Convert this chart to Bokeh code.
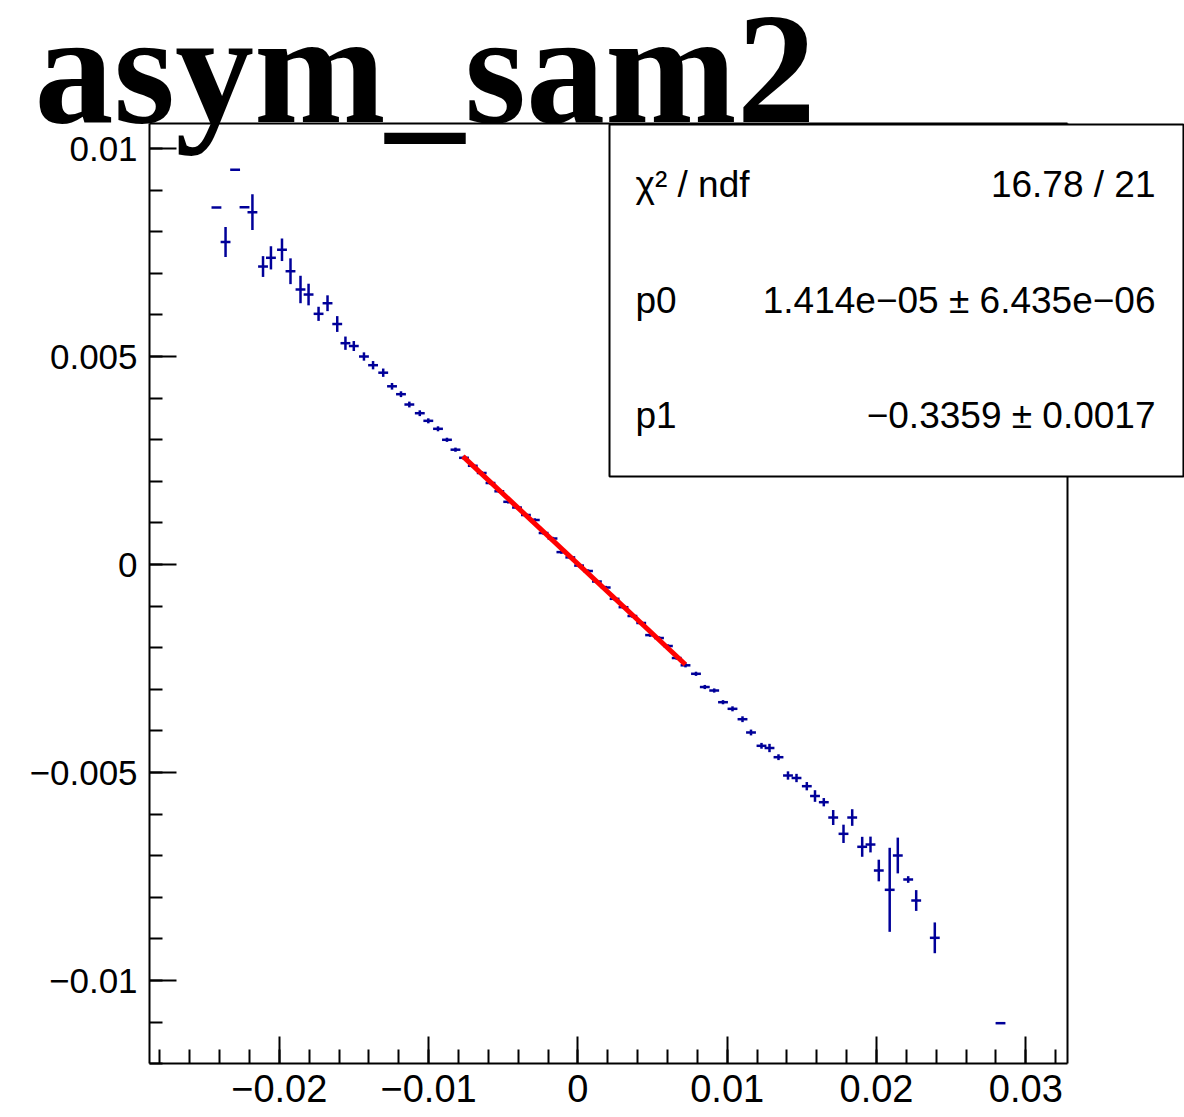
from bokeh.plotting import figure
from bokeh.models import (FixedTicker, LinearAxis, Label, BoxAnnotation, Range1d, ColumnDataSource)
from bokeh.embed import file_html
from bokeh.resources import INLINE

# ---------------- data ----------------
x_vals = [-0.02421, -0.02360, -0.02296, -0.02233, -0.02180, -0.02109, -0.02056, -0.01982,
          -0.01925, -0.01858, -0.01804, -0.01737, -0.01677, -0.01612, -0.01557, -0.01501,
          -0.01433, -0.01372, -0.01304, -0.01245, -0.01185, -0.01129, -0.01059, -0.01002,
          -0.00937, -0.00877, -0.00820, -0.00763,
          -0.007040, -0.006443, -0.005854, -0.005265, -0.004668, -0.004079, -0.003483, -0.002887,
          -0.002297, -0.001701, -0.001105, -0.000509, 0.000080, 0.000676, 0.001273, 0.001862,
          0.002458, 0.003054, 0.003650, 0.004240, 0.004836, 0.005432, 0.006028, 0.006618,
          0.007207, 0.007910, 0.008500, 0.009129, 0.009719, 0.010355, 0.011025, 0.011594,
          0.012297, 0.012833, 0.013436, 0.014072, 0.014642, 0.015332, 0.015881, 0.016470,
          0.017100, 0.017790, 0.018373, 0.019042, 0.019598, 0.020154, 0.020884, 0.021427,
          0.022123, 0.022659, 0.023905, 0.028306]
y_vals = [0.008582, 0.007752, 0.009488, 0.008589, 0.008469, 0.007163, 0.007373, 0.007565,
          0.007050, 0.006611, 0.006490, 0.006026, 0.006281, 0.005781, 0.005320, 0.005252,
          0.005000, 0.004791, 0.004611, 0.004284, 0.004094, 0.003846, 0.003637, 0.003454,
          0.003262, 0.002998, 0.002760, 0.002565,
          0.002373, 0.002200, 0.001959, 0.001760, 0.001507, 0.001370, 0.001190, 0.001070,
          0.000757, 0.000625, 0.000298, 0.000171, -0.000026, -0.000156, -0.000409, -0.000553,
          -0.000825, -0.001026, -0.001238, -0.001406, -0.001697, -0.001767, -0.001959, -0.002248,
          -0.002423, -0.002627, -0.002945, -0.003029, -0.003310, -0.003469, -0.003719, -0.004038,
          -0.004358, -0.004411, -0.004632, -0.005072, -0.005132, -0.005329, -0.005565, -0.005714,
          -0.006082, -0.006474, -0.006082, -0.006786, -0.006731, -0.007356, -0.007820, -0.006995,
          -0.007572, -0.008077, -0.008974, -0.011026]
y_errs = [0.0, 0.00036, 0.0, 0.0, 0.00043, 0.00025, 0.00028, 0.00027,
          0.00031, 0.00033, 0.00026, 0.00017, 0.00019, 0.00019, 0.00016, 0.00012,
          0.00010, 0.00010, 0.00010, 0.00008, 0.00007, 0.00007, 0.00007, 0.00006,
          0.00006, 0.00005, 0.00005, 0.00005,
          0.00004, 0.00004, 0.00004, 0.00004, 0.00004, 0.00004, 0.00004, 0.00004,
          0.00004, 0.00004, 0.00004, 0.00004, 0.00004, 0.00004, 0.00004, 0.00004,
          0.00004, 0.00004, 0.00004, 0.00004, 0.00004, 0.00004, 0.00004, 0.00004,
          0.00005, 0.00005, 0.00005, 0.00005, 0.00005, 0.00006, 0.00007, 0.00007,
          0.00007, 0.00010, 0.00007, 0.00010, 0.00010, 0.00010, 0.00014, 0.00010,
          0.00018, 0.00022, 0.00020, 0.00024, 0.00019, 0.00026, 0.00101, 0.00043,
          0.00008, 0.00025, 0.00037, 0.0]
bin_half_width = 0.00033

# fit result
fit_p0 = 1.414e-05
fit_p1 = -0.3359
fit_range = [-0.0077, 0.0072]

stat_labels = ["\u03c7\u00b2 / ndf", "p0", "p1"]
stat_values = ["16.78 / 21", "1.414e\u221205 \u00b1 6.435e\u221206", "\u22120.3359 \u00b1 0.0017"]

x_major = [-0.02, -0.01, 0.0, 0.01, 0.02, 0.03]
x_major_labels = ["\u22120.02", "\u22120.01", "0", "0.01", "0.02", "0.03"]
y_major = [-0.01, -0.005, 0.0, 0.005, 0.01]
y_major_labels = ["\u22120.01", "\u22120.005", "0", "0.005", "0.01"]

title_text = "asym_sam2"

# ---------------- figure ----------------
# histogram frame (axis extents)
X0, X1 = -0.02869, 0.03279
Y0, Y1 = -0.011995, 0.010601
# full canvas range (frame spans the whole canvas so overlays are not clipped)
W, H = 1184, 1112
XS, XE = -0.038674, 0.040630
YS, YE = -0.013173, 0.013558

p = figure(width=W, height=H, output_backend="svg", toolbar_location=None,
           x_range=Range1d(XS, XE), y_range=Range1d(YS, YE), min_border=0,
           background_fill_color="white", border_fill_color="white")
p.outline_line_color = None
p.xgrid.visible = False
p.ygrid.visible = False

FONT = "Liberation Sans"

xmin_ticks = [round(-0.028 + 0.002 * i, 4) for i in range(31)]
ymin_ticks = [round(-0.012 + 0.001 * i, 4) for i in range(23)]

for ax in p.xaxis:
    ax.fixed_location = Y0
    ax.bounds = (X0, X1)
    ax.ticker = FixedTicker(ticks=x_major, minor_ticks=xmin_ticks)
    ax.major_label_overrides = {v: s for v, s in zip(x_major, x_major_labels)}
    ax.major_tick_in = 27
    ax.major_tick_out = 0
    ax.minor_tick_in = 14
    ax.minor_tick_out = 0
    ax.major_tick_line_width = 2
    ax.minor_tick_line_width = 2
    ax.axis_line_width = 2
    ax.major_label_text_font = FONT
    ax.major_label_text_font_size = "38px"
    ax.major_label_text_color = "black"
    ax.major_label_standoff = 12

for ax in p.yaxis:
    ax.fixed_location = X0
    ax.bounds = (Y0, Y1)
    ax.ticker = FixedTicker(ticks=y_major, minor_ticks=ymin_ticks)
    ax.major_label_overrides = {v: s for v, s in zip(y_major, y_major_labels)}
    ax.major_tick_in = 27
    ax.major_tick_out = 0
    ax.minor_tick_in = 13
    ax.minor_tick_out = 0
    ax.major_tick_line_width = 2
    ax.minor_tick_line_width = 2
    ax.axis_line_width = 2
    ax.major_label_text_font = FONT
    ax.major_label_text_font_size = "35px"
    ax.major_label_text_color = "black"
    ax.major_label_standoff = 12

# frame lines on top and right (no ticks)
p.add_layout(LinearAxis(fixed_location=X1, bounds=(Y0, Y1), ticker=FixedTicker(ticks=[]),
                        axis_line_width=2, major_tick_line_color=None,
                        minor_tick_line_color=None, major_label_text_font_size="0px"), "right")
p.add_layout(LinearAxis(fixed_location=Y1, bounds=(X0, X1), ticker=FixedTicker(ticks=[]),
                        axis_line_width=2, major_tick_line_color=None,
                        minor_tick_line_color=None, major_label_text_font_size="0px"), "above")

# ---------------- data points ----------------
src = ColumnDataSource(dict(
    x=x_vals, y=y_vals,
    xl=[x - bin_half_width for x in x_vals], xr=[x + bin_half_width for x in x_vals],
    yl=[y - e for y, e in zip(y_vals, y_errs)], yh=[y + e for y, e in zip(y_vals, y_errs)],
))
BLUE = "#000099"
p.segment(x0="xl", y0="y", x1="xr", y1="y", source=src, line_color=BLUE, line_width=2.5)
p.segment(x0="x", y0="yl", x1="x", y1="yh", source=src, line_color=BLUE, line_width=2.5)

# fit line
fx = fit_range
fy = [fit_p0 + fit_p1 * x for x in fx]
p.line(fx, fy, line_color="#ff0000", line_width=5)

# ---------------- stats box ----------------
box = BoxAnnotation(left=0.002117, right=0.04056, top=0.010575, bottom=0.002115,
                    fill_color="white", fill_alpha=1.0, line_color="black", line_alpha=1.0,
                    line_width=2, level="overlay")
p.add_layout(box)

rows_y = [0.009135, 0.006347, 0.003582]
for lab, val, yy in zip(stat_labels, stat_values, rows_y):
    p.add_layout(Label(x=0.003858, y=yy, text=lab, text_font=FONT, text_font_size="37px",
                       text_color="black", text_baseline="alphabetic", text_align="left",
                       level="overlay"))
    p.add_layout(Label(x=0.038687, y=yy, text=val, text_font=FONT, text_font_size="37px",
                       text_color="black", text_baseline="alphabetic", text_align="right",
                       level="overlay"))

# ---------------- title ----------------
p.add_layout(Label(x=-0.03640, y=0.011923, text=title_text, text_font="Liberation Serif",
                   text_font_style="bold", text_font_size="158px", text_color="black",
                   text_baseline="alphabetic", text_align="left", level="overlay"))

open("out.html", "w").write(file_html(p, INLINE))
